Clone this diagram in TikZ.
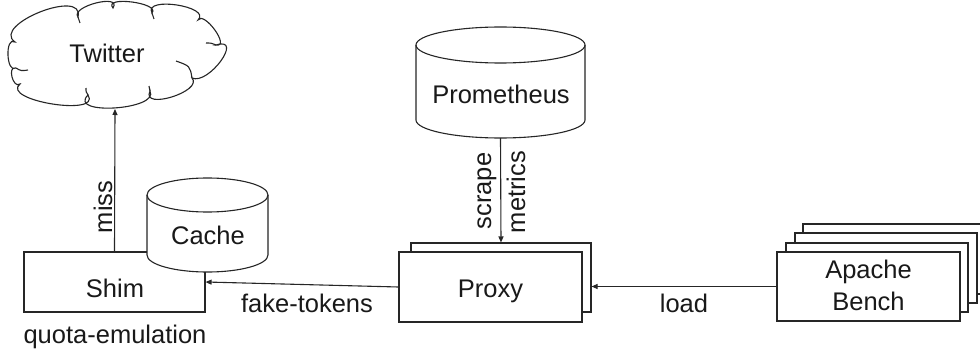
\documentclass[tikz,border=0pt]{standalone}
\usepackage{fontspec}
\setmainfont{Liberation Sans}
\usetikzlibrary{calc,arrows.meta}
\newcommand\mycyl[5]{% x1 x2 top bottom ry
  \pgfmathsetmacro\rxx{(#2-#1)/2}
  \filldraw[line,fill=white] (#1,{#3+#5}) -- (#1,{#4-#5})
    arc[start angle=180,end angle=360,x radius=\rxx pt,y radius=#5pt]
    -- (#2,{#3+#5})
    arc[start angle=0,end angle=180,x radius=\rxx pt,y radius=#5pt] -- cycle;
  \draw[line] (#1,{#3+#5}) arc[start angle=180,end angle=360,x radius=\rxx pt,y radius=#5pt];
}
\begin{document}
\begin{tikzpicture}[x=1pt,y=-1pt,
  line/.style={draw=black!85,line width=1.1pt},
  box/.style={line,fill=white,inner sep=0pt},
  txt/.style={font=\fontsize{25.5}{31}\selectfont,text=black!90,inner sep=0pt},
  arr/.style={line,-{Triangle[length=6pt,width=5pt]}},
  area/.style={inner sep=0pt,outer sep=0pt}]
\useasboundingbox (0,0) rectangle (980,353);
% Twitter cloud: junctions J and puff peaks B
\coordinate (J1) at (15,42);   \coordinate (B1) at (40,12);
\coordinate (J2) at (78,17);   \coordinate (B2) at (96,3);
\coordinate (J3) at (113,8);   \coordinate (B3) at (132,2);
\coordinate (J4) at (152,13);  \coordinate (B4) at (177,5);
\coordinate (J5) at (198,20);  \coordinate (B5) at (215,30);
\coordinate (J6) at (216,45);  \coordinate (B6) at (221,61);
\coordinate (J7) at (192,78);  \coordinate (B7) at (172,97);
\coordinate (J8) at (150,91);  \coordinate (B8) at (115,108);
\coordinate (J9) at (88,95);   \coordinate (B9) at (52,104);
\coordinate (J10) at (20,84);  \coordinate (B10) at (12,77);
\coordinate (J11) at (16,68);  \coordinate (B11) at (8,55);
\foreach \i/\j in {1/2,2/3,3/4,4/5,5/6,6/7,7/8,8/9,9/10,10/11,11/1}{
  \coordinate (C\i a) at ($0.583*(J\i)+1.333*(B\i)-0.917*(J\j)$);
  \coordinate (C\i b) at ($0.583*(J\j)+1.333*(B\i)-0.917*(J\i)$);
}
\filldraw[line,fill=white] (J1)
  .. controls (C1a) and (C1b) .. (J2)
  .. controls (C2a) and (C2b) .. (J3)
  .. controls (C3a) and (C3b) .. (J4)
  .. controls (C4a) and (C4b) .. (J5)
  .. controls (C5a) and (C5b) .. (J6)
  .. controls (C6a) and (C6b) .. (J7)
  .. controls (C7a) and (C7b) .. (J8)
  .. controls (C8a) and (C8b) .. (J9)
  .. controls (C9a) and (C9b) .. (J10)
  .. controls (C10a) and (C10b) .. (J11)
  .. controls (C11a) and (C11b) .. cycle;
% inner hooks of the cloud
\draw[line] (J11) .. controls (21,71) .. (28,70);
\draw[line] (J9) .. controls (86,92) .. (86,88);
\draw[line] (J8) .. controls (149,89) .. (149,86);
\draw[line] (J7) .. controls (190,66) .. (176,61);
\draw[line] (J6) .. controls (211,43) .. (206,43);
\draw[line] (J4) .. controls (153,16) .. (154,19);
\draw[line] (J2) .. controls (79,20) .. (80,23);
\node[area,minimum width=212pt,minimum height=103pt] (tw) at (115,57.5) {};
\node[txt,anchor=base] at (107,63) {Twitter};
% Shim
\node[box,minimum width=181pt,minimum height=60pt] (shim) at (114.5,282) {};
\node[txt,anchor=base] at (115,297) {Shim};
\node[txt,anchor=base] (quota) at (115,343) {quota-emulation};
% Cache
\mycyl{147}{268}{178}{272}{17}
\node[area,minimum width=121pt,minimum height=94pt] (cache) at (207.5,225) {};
\node[txt,anchor=base] at (208,244) {Cache};
% Prometheus
\mycyl{416}{585}{27}{138}{18}
\node[area,minimum width=169pt,minimum height=111pt] (prom) at (500.5,82.5) {};
\node[txt,anchor=base] at (501,103) {Prometheus};
% Proxy
\node[box,minimum width=180pt,minimum height=69pt] (proxyb) at (501,277.5) {};
\node[box,minimum width=183pt,minimum height=70pt] (proxy) at (490.5,287) {};
\node[txt,anchor=base] at (490.5,297) {Proxy};
% Apache Bench stack
\node[box,minimum width=183pt,minimum height=70pt] (ab4) at (894.5,259) {};
\node[box,minimum width=182pt,minimum height=70pt] (ab3) at (886,268) {};
\node[box,minimum width=182pt,minimum height=69pt] (ab2) at (877,277.5) {};
\node[box,minimum width=183pt,minimum height=69pt] (ab) at (868.5,286.5) {};
\node[txt,anchor=base] at (868.5,278) {Apache};
\node[txt,anchor=base] at (868.5,310) {Bench};
% connectors
\draw[arr] (shim.north) -- (tw.south);
\node[txt,anchor=base,rotate=90] at (112,207) {miss};
\draw[arr] (prom.south) -- (proxyb.north);
\node[txt,anchor=base,rotate=90] at (491,191) {scrape};
\node[txt,anchor=base,rotate=90] at (525,192) {metrics};
\draw[arr] (proxy.west) -- (shim.east);
\node[txt,anchor=base] at (307,312) {fake-tokens};
\draw[arr] (ab.west) -- (proxyb.east |- ab.west);
\node[txt,anchor=base] at (684,312) {load};
\end{tikzpicture}
\end{document}
